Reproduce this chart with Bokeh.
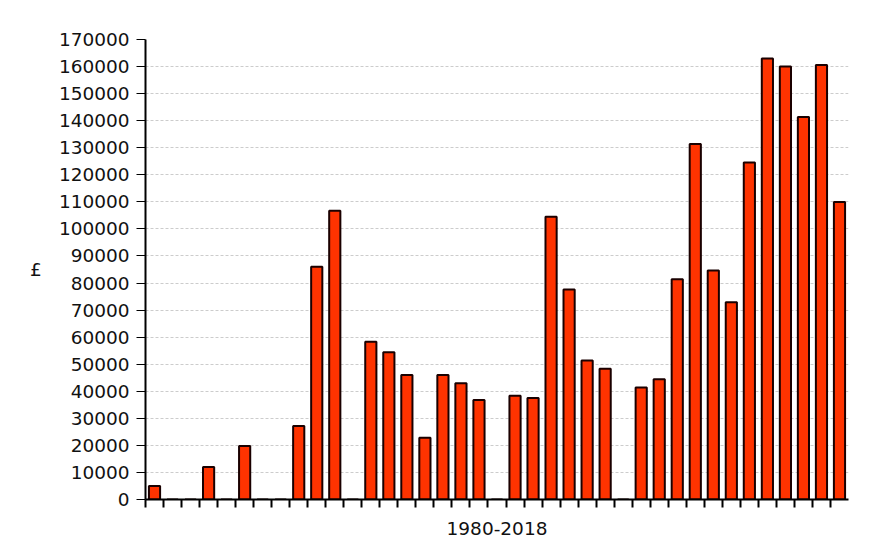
from bokeh.plotting import figure
from bokeh.models import Range1d, FixedTicker, SingleIntervalTicker, ColumnDataSource
from bokeh.embed import file_html
from bokeh.resources import INLINE

years = [1980, 1981, 1982, 1983, 1984, 1985, 1986, 1987, 1988, 1989,
         1990, 1991, 1992, 1993, 1994, 1995, 1996, 1997, 1998, 1999,
         2000, 2001, 2002, 2003, 2004, 2005, 2006, 2007, 2008, 2009,
         2010, 2011, 2012, 2013, 2014, 2015, 2016, 2017, 2018]
amounts = [5000, 0, 0, 12000, 0, 19800, 0, 0, 27200, 86000,
           106700, 0, 58300, 54400, 46000, 22800, 46000, 43000, 36800, 0,
           38300, 37500, 104500, 77600, 51400, 48300, 0, 41400, 44400, 81400,
           131400, 84600, 72900, 124500, 163000, 160000, 141400, 160600, 109900]
x_label = "1980-2018"
y_label = "£"

FONT = "DejaVu Sans"

source = ColumnDataSource(data=dict(year=years, amount=amounts))

p = figure(width=858, height=544, output_backend="svg", toolbar_location=None,
           x_range=Range1d(years[0] - 0.5, years[-1] + 0.5),
           y_range=Range1d(0, 170000),
           min_border_left=145, min_border_right=10, min_border_top=39,
           min_border_bottom=45)
p.outline_line_color = None
p.background_fill_color = "white"
p.border_fill_color = "white"

p.vbar(x="year", top="amount", width=0.62, source=source,
       fill_color="#FF3300", line_color="#1a0000", line_width=2)

# y axis
p.yaxis.ticker = SingleIntervalTicker(interval=10000, num_minor_ticks=0)
p.yaxis.axis_line_color = "black"
p.yaxis.axis_line_width = 2
p.yaxis.major_tick_out = 9
p.yaxis.major_tick_in = 0
p.yaxis.major_tick_line_color = "black"
p.yaxis.major_tick_line_width = 1
p.yaxis.minor_tick_line_color = None
p.yaxis.major_label_text_font = FONT
p.yaxis.major_label_text_font_size = "18.5px"
p.yaxis.major_label_text_color = "#111111"
p.yaxis.major_label_standoff = 7
p.yaxis.axis_label = y_label
p.yaxis.axis_label_orientation = "horizontal"
p.yaxis.axis_label_text_font = FONT
p.yaxis.axis_label_text_font_style = "normal"
p.yaxis.axis_label_text_font_size = "18.5px"
p.yaxis.axis_label_text_color = "#111111"
p.yaxis.axis_label_standoff = 14
p.yaxis.formatter.use_scientific = False

# x axis: tick marks at category boundaries (minor ticks, no labels)
p.xaxis.ticker = FixedTicker(ticks=[], minor_ticks=[y - 0.5 for y in years])
p.xaxis.axis_line_color = "black"
p.xaxis.axis_line_width = 2
p.xaxis.major_tick_line_color = None
p.xaxis.minor_tick_out = 8
p.xaxis.minor_tick_in = 0
p.xaxis.minor_tick_line_color = "black"
p.xaxis.minor_tick_line_width = 2
p.xaxis.axis_label = x_label
p.xaxis.axis_label_text_font = FONT
p.xaxis.axis_label_text_font_style = "normal"
p.xaxis.axis_label_text_font_size = "18.5px"
p.xaxis.axis_label_text_color = "#111111"
p.xaxis.axis_label_standoff = 14

p.xgrid.grid_line_color = None
p.ygrid.grid_line_color = "#cccccc"
p.ygrid.grid_line_dash = "3 2"
p.ygrid.grid_line_width = 1

open("out.html", "w").write(file_html(p, INLINE))
